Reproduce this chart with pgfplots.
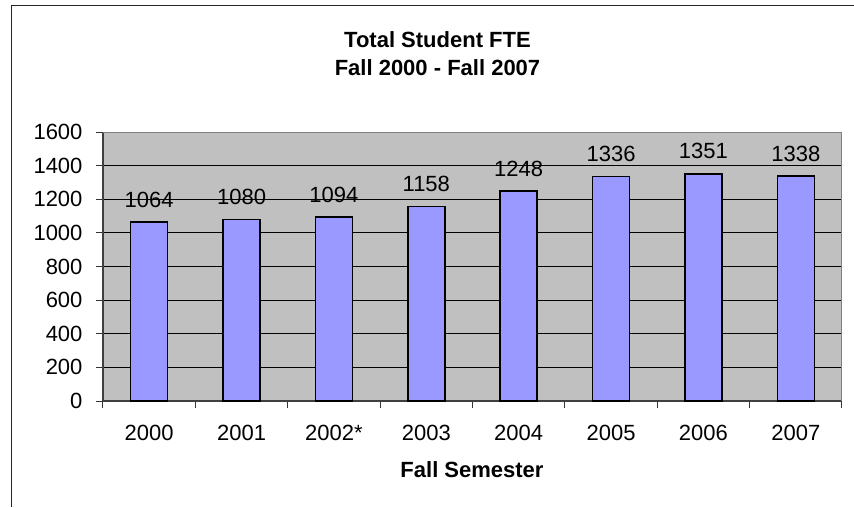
\documentclass[border=0pt]{standalone}
\usepackage{pgfplots}
\pgfplotsset{compat=1.18}
\usepackage{fontspec}
\setmainfont{Liberation Sans}
\definecolor{plotbg}{HTML}{C0C0C0}
\definecolor{barfill}{HTML}{9999FF}
\begin{document}
\fontsize{22}{26}\selectfont
\begin{tikzpicture}[x=1pt,y=1pt]
\useasboundingbox (0,0) rectangle (854,507);
\draw[line width=1pt, black!85] (11.5,0) -- (11.5,501.5) -- (854,501.5);
\node[anchor=base, font=\bfseries, inner sep=0pt] at (437.5,459) {Total Student FTE};
\node[anchor=base, font=\bfseries, inner sep=0pt] at (437.5,431.3) {Fall 2000 - Fall 2007};
\node[anchor=base, font=\bfseries, inner sep=0pt] at (472,29.7) {Fall Semester};
\begin{axis}[
  at={(103pt,106pt)}, anchor=south west,
  scale only axis, width=739pt, height=269pt,
  xmin=-0.5, xmax=7.5, ymin=0, ymax=1600,
  ytick={0,200,...,1600},
  xtick={0,...,7},
  xticklabels={2000,2001,2002*,2003,2004,2005,2006,2007},
  minor xtick={-0.5,0.5,...,7.5},
  major x tick style={draw=none},
  tick align=outside,
  major tick length=7pt, minor tick length=7pt,
  tick style={black!80, line width=1pt},
  axis x line*=bottom, axis y line*=left,
  axis line style={-, draw=black!75, line width=1.5pt},
  axis background/.style={fill=plotbg},
  ymajorgrids, grid style={black, line width=1pt},
  /pgf/number format/1000 sep={},
  /pgf/number format/assume math mode=true,
  yticklabel style={anchor=east, xshift=-6pt},
  xticklabel style={anchor=base, yshift=-32pt},
  ybar, bar width=0.4,
  nodes near coords,
  every node near coord/.append style={anchor=base, inner sep=0pt, yshift=15pt},
  clip=false,
]
\addplot[fill=barfill, draw=black, line width=1.5pt] coordinates {
  (0,1064) (1,1080) (2,1094) (3,1158) (4,1248) (5,1336) (6,1351) (7,1338)
};
\draw[draw=gray, line width=1pt] (rel axis cs:0,1) -- (rel axis cs:1,1) -- (rel axis cs:1,0);
\end{axis}
\end{tikzpicture}
\end{document}
